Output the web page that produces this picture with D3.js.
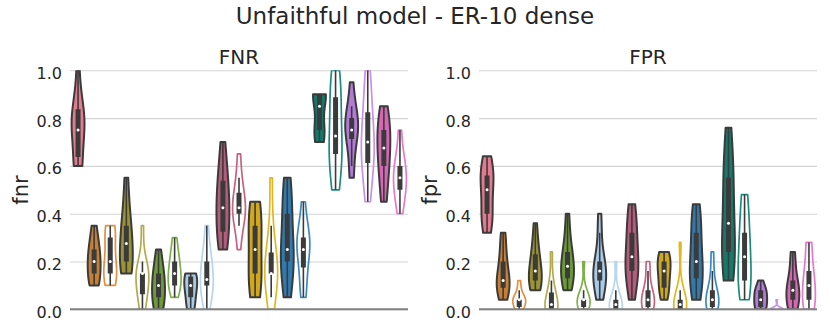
<!DOCTYPE html>
<html>
<head>
<meta charset="utf-8">
<script src="https://cdn.jsdelivr.net/npm/d3@7/dist/d3.min.js"></script>
<style>
  body { margin: 0; background: #fff; }
  text { font-family: "DejaVu Sans", sans-serif; fill: #262626; }
</style>
</head>
<body>
<svg id="chart" width="830" height="332"></svg>
<script>
// 21 runs per panel, coloured by method family; the odd ones are drawn hollow
var families = [0, 1, 1, 2, 2, 3, 3, 4, 4, 5, 5, 6, 6, 7, 7, 8, 8, 9, 9, 10, 10];
var filled = [true, true, false, true, false, true, false, true, false, true, false,
              true, false, true, false, true, false, true, false, true, false];
var fillColors = ["#e47a8f", "#c67f33", "#9c9431", "#6c9a36", "#a9cbea", "#b55b7b",
                  "#d1a81b", "#2f7bb0", "#137b6c", "#b47ad8", "#d667b4"];
var lineColors = ["#e47a8f", "#e0903f", "#b3aa4c", "#7db048", "#b5d5f2", "#c9617f",
                  "#e2b71d", "#3a88c0", "#1a8c7e", "#c98feb", "#e779cb"];
var yTicks = [0, 0.2, 0.4, 0.6, 0.8, 1.0];

// per-run samples (fnr steps of 0.05, fpr steps of 0.04)
var fnr = [
  [0.6, 0.6, 0.6, 0.75, 0.75, 0.75, 0.8, 0.85, 0.85, 1.0],
  [0.1, 0.1, 0.15, 0.15, 0.2, 0.2, 0.25, 0.25, 0.3, 0.35],
  [0.1, 0.1, 0.15, 0.15, 0.2, 0.2, 0.3, 0.3, 0.35, 0.35],
  [0.15, 0.15, 0.2, 0.2, 0.25, 0.3, 0.35, 0.35, 0.45, 0.55],
  [0, 0.05, 0.05, 0.1, 0.15, 0.15, 0.15, 0.15, 0.2, 0.35],
  [0, 0, 0.05, 0.05, 0.1, 0.1, 0.15, 0.15, 0.2, 0.25],
  [0.05, 0.1, 0.1, 0.1, 0.15, 0.15, 0.2, 0.2, 0.25, 0.3],
  [0, 0, 0.05, 0.05, 0.1, 0.1, 0.1, 0.15, 0.15, 0.15],
  [0, 0.05, 0.1, 0.1, 0.1, 0.15, 0.2, 0.2, 0.25, 0.35],
  [0.25, 0.3, 0.3, 0.4, 0.4, 0.45, 0.5, 0.55, 0.6, 0.7],
  [0.25, 0.35, 0.4, 0.4, 0.4, 0.45, 0.45, 0.5, 0.55, 0.65],
  [0.05, 0.05, 0.15, 0.15, 0.2, 0.3, 0.35, 0.35, 0.45, 0.45],
  [0, 0.05, 0.15, 0.15, 0.15, 0.15, 0.2, 0.25, 0.35, 0.55],
  [0.05, 0.1, 0.2, 0.2, 0.25, 0.25, 0.4, 0.4, 0.5, 0.55],
  [0.05, 0.1, 0.15, 0.25, 0.25, 0.25, 0.3, 0.3, 0.35, 0.45],
  [0.7, 0.7, 0.75, 0.75, 0.8, 0.9, 0.9, 0.9, 0.9, 0.9],
  [0.5, 0.55, 0.65, 0.65, 0.7, 0.75, 0.85, 0.9, 0.95, 1.0],
  [0.55, 0.6, 0.7, 0.75, 0.75, 0.75, 0.8, 0.8, 0.85, 0.95],
  [0.45, 0.55, 0.6, 0.65, 0.7, 0.7, 0.75, 0.85, 0.9, 1.0],
  [0.45, 0.5, 0.6, 0.6, 0.65, 0.7, 0.75, 0.75, 0.8, 0.85],
  [0.4, 0.45, 0.5, 0.5, 0.55, 0.55, 0.6, 0.6, 0.65, 0.75]
];
var fpr = [
  [0.32, 0.36, 0.4, 0.4, 0.48, 0.52, 0.56, 0.56, 0.6, 0.64],
  [0.04, 0.08, 0.08, 0.12, 0.12, 0.12, 0.2, 0.2, 0.28, 0.32],
  [0, 0, 0, 0.04, 0.04, 0.04, 0.04, 0.04, 0.08, 0.12],
  [0.08, 0.08, 0.12, 0.12, 0.16, 0.16, 0.2, 0.24, 0.28, 0.36],
  [0, 0, 0, 0, 0, 0.04, 0.04, 0.08, 0.12, 0.24],
  [0.08, 0.12, 0.12, 0.16, 0.16, 0.2, 0.24, 0.24, 0.32, 0.4],
  [0, 0, 0, 0.04, 0.04, 0.04, 0.04, 0.04, 0.08, 0.2],
  [0.04, 0.08, 0.12, 0.12, 0.16, 0.16, 0.2, 0.2, 0.32, 0.4],
  [0, 0, 0, 0, 0, 0.04, 0.04, 0.04, 0.08, 0.2],
  [0.04, 0.12, 0.16, 0.16, 0.2, 0.24, 0.32, 0.32, 0.4, 0.44],
  [0, 0, 0, 0.04, 0.04, 0.04, 0.08, 0.08, 0.16, 0.2],
  [0.04, 0.08, 0.08, 0.12, 0.16, 0.16, 0.2, 0.2, 0.24, 0.24],
  [0, 0, 0, 0, 0, 0.04, 0.04, 0.04, 0.08, 0.28],
  [0.04, 0.08, 0.12, 0.16, 0.2, 0.2, 0.32, 0.32, 0.4, 0.44],
  [0, 0, 0, 0.04, 0.04, 0.04, 0.08, 0.08, 0.16, 0.24],
  [0.12, 0.16, 0.24, 0.24, 0.32, 0.4, 0.52, 0.56, 0.64, 0.76],
  [0.04, 0.08, 0.12, 0.12, 0.2, 0.24, 0.32, 0.32, 0.44, 0.48],
  [0, 0, 0, 0.04, 0.04, 0.04, 0.08, 0.08, 0.08, 0.12],
  [0, 0, 0, 0, 0, 0, 0, 0, 0, 0.04],
  [0, 0, 0.04, 0.04, 0.08, 0.08, 0.12, 0.12, 0.2, 0.24],
  [0, 0, 0.04, 0.04, 0.08, 0.12, 0.16, 0.16, 0.28, 0.28]
];

var svg = d3.select("#chart");
var dark = "#3b3b3b";

svg.append("text")
    .attr("x", 415).attr("y", 24)
    .attr("text-anchor", "middle")
    .style("font-size", "23px")
    .text("Unfaithful model - ER-10 dense");

// gaussian kde, scott bandwidth, cut at the data range (like seaborn cut=0)
function kde(vals) {
  var n = vals.length,
      bw = d3.deviation(vals) * Math.pow(n, -0.2),
      lo = d3.min(vals), hi = d3.max(vals);
  var pts = d3.range(100).map(function(i) {
    var v = lo + (hi - lo) * i / 99;
    var d = d3.sum(vals, function(x) { var z = (v - x) / bw; return Math.exp(-0.5 * z * z); });
    return {v: v, d: d};
  });
  var m = d3.max(pts, function(p) { return p.d; });
  pts.forEach(function(p) { p.d = p.d / m; });
  return pts;
}

function panel(data, left, title, label, id) {
  var x = d3.scaleBand().domain(d3.range(data.length)).range([left, left + 338]);
  var y = d3.scaleLinear().domain([0, 1]).range([309.3, 70.3]);
  var half = x.bandwidth() * 0.4;

  svg.append("clipPath").attr("id", id)
    .append("rect").attr("x", left - 2).attr("y", y(1)).attr("width", 342).attr("height", y(0) - y(1));

  var g = svg.append("g");

  // grid + tick labels
  g.append("g")
      .attr("transform", "translate(" + left + ",0)")
      .call(d3.axisLeft(y).tickValues(yTicks).tickFormat(d3.format(".1f")).tickSize(-338).tickPadding(8))
      .call(function(a) {
        a.select(".domain").remove();
        a.selectAll(".tick line").attr("stroke", "#d4d4d4").attr("stroke-width", 1.1);
        a.selectAll(".tick text").style("font-size", "16px").attr("fill", "#262626").attr("dy", "0.5em");
      });

  g.append("text")
      .attr("x", left + 169).attr("y", 64)
      .attr("text-anchor", "middle")
      .style("font-size", "20px")
      .text(title);

  g.append("text")
      .attr("transform", "translate(" + (left - 42) + "," + 190 + ") rotate(-90)")
      .attr("text-anchor", "middle")
      .style("font-size", "21px")
      .text(label);

  var plot = g.append("g").attr("clip-path", "url(#" + id + ")");

  data.forEach(function(vals, i) {
    var cx = x(i) + x.bandwidth() / 2;
    var fam = families[i];
    var dens = kde(vals);
    var area = d3.area()
        .y(function(p) { return y(p.v); })
        .x0(function(p) { return cx - p.d * half; })
        .x1(function(p) { return cx + p.d * half; });
    plot.append("path")
        .datum(dens)
        .attr("d", area)
        .attr("fill", filled[i] ? fillColors[fam] : "none")
        .attr("stroke", filled[i] ? dark : lineColors[fam])
        .attr("stroke-width", filled[i] ? 2 : 1.7)
        .attr("stroke-linejoin", "round");

    var s = vals.slice().sort(d3.ascending);
    var q1 = d3.quantileSorted(s, 0.25), med = d3.quantileSorted(s, 0.5), q3 = d3.quantileSorted(s, 0.75);
    var iqr = q3 - q1;
    var wlo = d3.min(s.filter(function(v) { return v >= q1 - 1.5 * iqr; }));
    var whi = d3.max(s.filter(function(v) { return v <= q3 + 1.5 * iqr; }));

    plot.append("line")
        .attr("x1", cx).attr("x2", cx)
        .attr("y1", y(wlo)).attr("y2", y(whi))
        .attr("stroke", dark).attr("stroke-width", 1.6);
    plot.append("line")
        .attr("x1", cx).attr("x2", cx)
        .attr("y1", y(q1)).attr("y2", y(q3))
        .attr("stroke", dark).attr("stroke-width", 5);
    plot.append("circle")
        .attr("cx", cx).attr("cy", y(med)).attr("r", 1.5)
        .attr("fill", "#fff");
  });

  // bottom spine
  g.append("line")
      .attr("x1", left).attr("x2", left + 338)
      .attr("y1", y(0)).attr("y2", y(0))
      .attr("stroke", "#808080").attr("stroke-width", 2);
}

panel(fnr, 70, "FNR", "fnr", "clipA");
panel(fpr, 479, "FPR", "fpr", "clipB");
</script>
</body>
</html>
